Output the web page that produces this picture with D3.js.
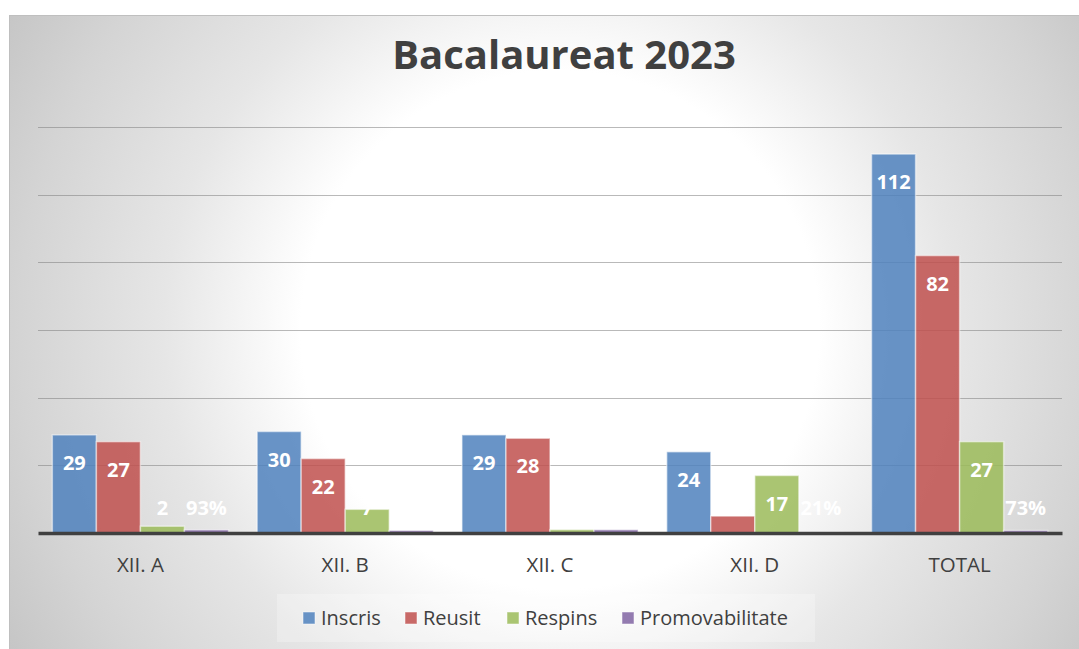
<!DOCTYPE html>
<html>
<head>
<meta charset="utf-8">
<script src="https://cdn.jsdelivr.net/npm/d3@7"></script>
<style>
    body { margin: 0; background: #fff; }
    text { font-family: "Open Sans", "Noto Sans", sans-serif; }
</style>
</head>
<body>
<div id="chart"></div>
<script>
var width = 1079;
var height = 649;

// data
var categories = ["XII. A", "XII. B", "XII. C", "XII. D", "TOTAL"];
var inscris = [29, 30, 29, 24, 112];
var reusit = [27, 22, 28, 5, 82];
var respins = [2, 7, 1, 17, 27];
var promovabilitate = [0.93, 0.73, 0.97, 0.21, 0.73];
var seriesNames = ["Inscris", "Reusit", "Respins", "Promovabilitate"];
var yTicks = [0, 20, 40, 60, 80, 100, 120];

var colors = {
    "Inscris": "#4F81BD",
    "Reusit": "#C0504D",
    "Respins": "#9BBB59",
    "Promovabilitate": "#8064A2"
};

var series = [inscris, reusit, respins, promovabilitate];

var margin = {top: 127, left: 38, right: 17, bottom: 116};

var svg = d3.select("#chart").append("svg")
    .attr("width", width)
    .attr("height", height);

// background with radial gradient
var defs = svg.append("defs");
var grad = defs.append("radialGradient")
    .attr("id", "bg")
    .attr("gradientUnits", "userSpaceOnUse")
    .attr("cx", 560).attr("cy", 330).attr("r", 720);
grad.append("stop").attr("offset", "0").attr("stop-color", "#ffffff");
grad.append("stop").attr("offset", "0.36").attr("stop-color", "#ffffff");
grad.append("stop").attr("offset", "0.55").attr("stop-color", "#e6e6e6");
grad.append("stop").attr("offset", "0.75").attr("stop-color", "#d4d4d4");
grad.append("stop").attr("offset", "0.9").attr("stop-color", "#c4c4c4");
grad.append("stop").attr("offset", "1").attr("stop-color", "#bdbdbd");

svg.append("rect")
    .attr("x", 9.5).attr("y", 15.5)
    .attr("width", 1075).attr("height", 640)
    .attr("fill", "url(#bg)")
    .attr("stroke", "#bfbfbf");

var x0 = d3.scaleBand()
    .domain(categories)
    .range([margin.left, width - margin.right])
    .paddingInner(0.14)
    .paddingOuter(0.07);

var x1 = d3.scaleBand()
    .domain(seriesNames)
    .range([0, x0.bandwidth()]);

var y = d3.scaleLinear()
    .domain([0, 120])
    .range([height - margin.bottom, margin.top]);

// gridlines
svg.append("g")
    .selectAll("line")
    .data(yTicks.slice(1))
    .enter().append("line")
    .attr("x1", margin.left)
    .attr("x2", width - margin.right)
    .attr("y1", function(d) { return Math.round(y(d)) + 0.5; })
    .attr("y2", function(d) { return Math.round(y(d)) + 0.5; })
    .attr("stroke", "#7f7f7f")
    .attr("stroke-opacity", 0.55)
    .attr("stroke-width", 1);

// bars
var groups = svg.append("g")
    .selectAll("g")
    .data(categories)
    .enter().append("g")
    .attr("transform", function(d) { return "translate(" + x0(d) + ",0)"; });

groups.selectAll("rect")
    .data(function(d, i) {
        return seriesNames.map(function(s, j) { return {name: s, value: series[j][i]}; });
    })
    .enter().append("rect")
    .attr("x", function(d) { return x1(d.name); })
    .attr("width", x1.bandwidth())
    .attr("y", function(d) { return y(d.value); })
    .attr("height", function(d) { return y(0) - y(d.value); })
    .attr("fill", function(d) { return colors[d.name]; })
    .attr("fill-opacity", 0.85)
    .attr("stroke", "#ffffff")
    .attr("stroke-opacity", 0.5)
    .attr("stroke-width", 1.5);

// value labels (white, inside end)
var pct = d3.format(".0%");
groups.selectAll("text")
    .data(function(d, i) {
        return seriesNames.map(function(s, j) { return {name: s, value: series[j][i]}; });
    })
    .enter().append("text")
    .attr("x", function(d) { return x1(d.name) + x1.bandwidth() / 2; })
    .attr("y", function(d) { return Math.min(y(d.value) + 28, y(0) - 25); })
    .attr("dy", "0.36em")
    .attr("text-anchor", "middle")
    .style("font-size", "20px")
    .style("font-weight", "bold")
    .style("fill", "#ffffff")
    .text(function(d) { return d.name == "Promovabilitate" ? pct(d.value) : d.value; });

// x axis
var xAxis = svg.append("g")
    .attr("transform", "translate(0," + y(0) + ")")
    .call(d3.axisBottom(x0).tickSize(0));
xAxis.select(".domain")
    .attr("stroke", "#404040")
    .attr("stroke-width", 3.5);
xAxis.selectAll("text")
    .attr("y", 39)
    .attr("dy", 0)
    .style("font-size", "20.5px")
    .style("font-family", "'Open Sans', sans-serif")
    .style("fill", "#404040");

// title
svg.append("text")
    .attr("x", 564)
    .attr("y", 69)
    .attr("text-anchor", "middle")
    .style("font-size", "40px")
    .style("font-weight", "bold")
    .style("fill", "#404040")
    .text("Bacalaureat 2023");

// legend
svg.append("rect")
    .attr("x", 277).attr("y", 594)
    .attr("width", 538).attr("height", 48)
    .attr("fill", "#ffffff")
    .attr("fill-opacity", 0.25);

var legendX = [303, 405, 507, 622];
var legend = svg.append("g")
    .selectAll("g")
    .data(seriesNames)
    .enter().append("g")
    .attr("transform", function(d, i) { return "translate(" + legendX[i] + ",612)"; });

legend.append("rect")
    .attr("width", 12).attr("height", 12)
    .attr("fill", function(d) { return colors[d]; })
    .attr("fill-opacity", 0.85)
    .attr("stroke", "#ffffff")
    .attr("stroke-opacity", 0.5);

legend.append("text")
    .attr("x", 18)
    .attr("y", 13)
    .style("font-size", "20px")
    .style("fill", "#404040")
    .text(function(d) { return d; });
</script>
</body>
</html>
